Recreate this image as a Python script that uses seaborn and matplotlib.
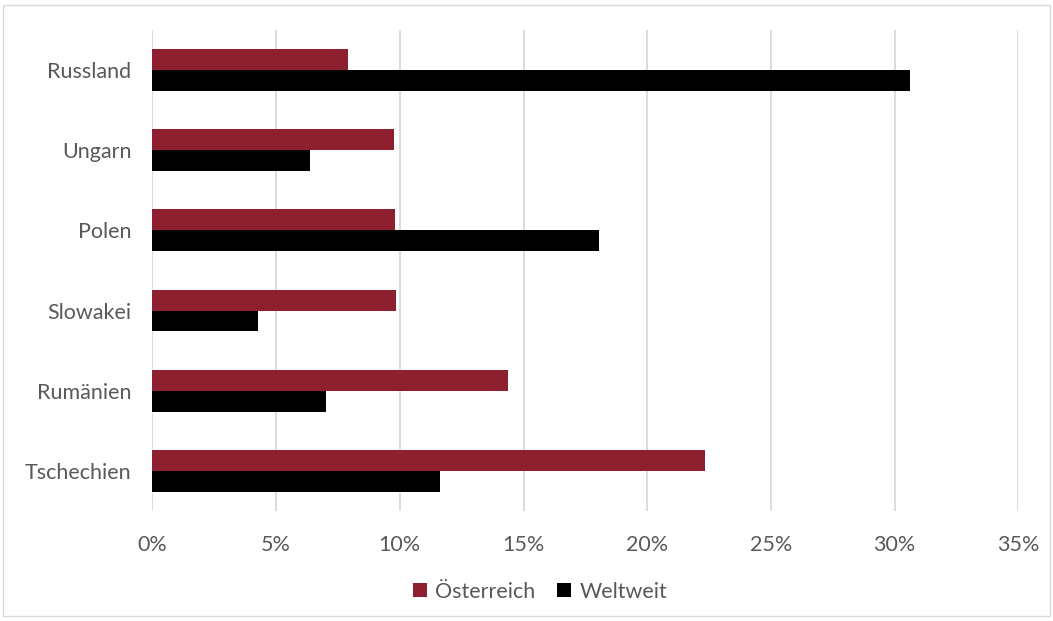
import pandas as pd
import seaborn as sns
import matplotlib.pyplot as plt
from matplotlib.patches import Rectangle
from matplotlib.ticker import PercentFormatter

countries = ['Russland', 'Ungarn', 'Polen', 'Slowakei', 'Rumänien', 'Tschechien']
oesterreich = [7.9, 9.77, 9.81, 9.85, 14.37, 22.32]
weltweit = [30.6, 6.36, 18.05, 4.27, 7.0, 11.64]
series = ['Österreich', 'Weltweit']
colors = ['#8E1F2F', '#000000']

df = pd.DataFrame({
    'Land': countries * 2,
    'Anteil': oesterreich + weltweit,
    'Serie': [series[0]] * len(countries) + [series[1]] * len(countries),
})

sns.set_theme(style='white')
plt.rcParams['font.family'] = ['Lato', 'DejaVu Sans']

fig = plt.figure(figsize=(10.53, 6.21), dpi=100)
ax = fig.add_axes([0.1447, 0.177, 0.8225, 0.775])

sns.barplot(data=df, x='Anteil', y='Land', hue='Serie', order=countries,
            hue_order=series, palette=colors, saturation=1, width=0.52, gap=0,
            orient='h', linewidth=0, ax=ax)

ax.set_xlim(0, 35)
ax.set_xticks(range(0, 36, 5))
ax.xaxis.set_major_formatter(PercentFormatter(decimals=0))
ax.grid(axis='x', color='#D9D9D9', linewidth=1.3)
ax.set_axisbelow(True)
for s in ax.spines.values():
    s.set_visible(False)
ax.set_xlabel('')
ax.set_ylabel('')
ax.tick_params(axis='y', length=0, pad=15, labelsize=15.5, labelcolor='#595959')
ax.tick_params(axis='x', length=0, pad=17, labelsize=15.5, labelcolor='#595959')

ax.legend(loc='lower center', bbox_to_anchor=(0.5 + 0.013, 0.0),
          bbox_transform=fig.transFigure, ncol=2, frameon=False,
          fontsize=15.5, labelcolor='#595959', handlelength=0.65,
          handleheight=0.65, handletextpad=0.4, columnspacing=1.0)

fig.patches.append(Rectangle((0.003, 0.008), 0.994, 0.984, transform=fig.transFigure,
                             fill=False, edgecolor='#D9D9D9', linewidth=1))

fig.savefig('out.png', dpi=100)
